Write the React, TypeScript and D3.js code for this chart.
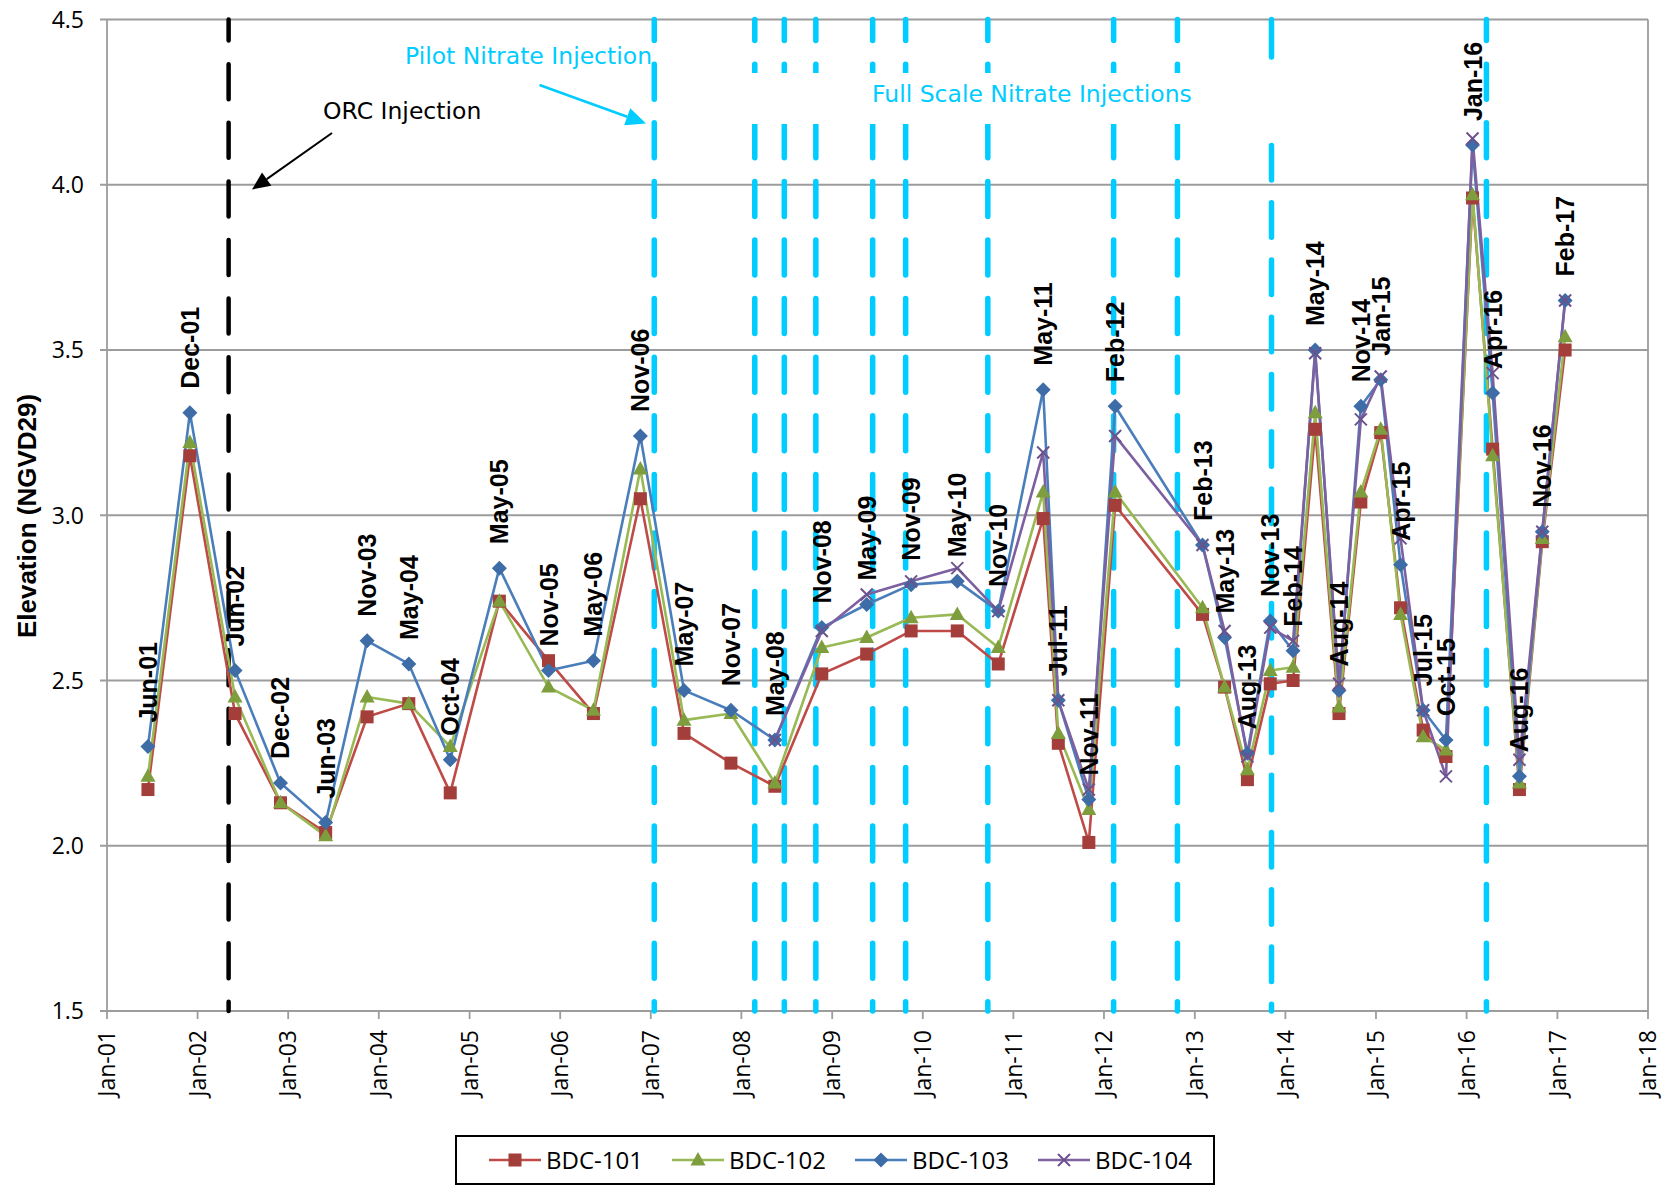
import React from 'react';
import * as d3 from 'd3';

// sampling events (BDC-101..104 water levels, ft NGVD29)
const sampleDates = [
  '2001-06-15', '2001-12-01', '2002-06-01', '2002-12-01', '2003-06-01', '2003-11-15',
  '2004-05-01', '2004-10-15', '2005-05-01', '2005-11-15', '2006-05-15', '2006-11-20',
  '2007-05-15', '2007-11-20', '2008-05-15', '2008-11-20', '2009-05-20', '2009-11-15',
  '2010-05-20', '2010-11-01', '2011-05-01', '2011-07-01', '2011-11-01', '2012-02-15',
  '2013-02-01', '2013-05-01', '2013-08-01', '2013-11-01', '2014-02-01', '2014-05-01',
  '2014-08-05', '2014-11-01', '2015-01-20', '2015-04-10', '2015-07-10', '2015-10-10',
  '2016-01-25', '2016-04-15', '2016-08-01', '2016-11-01', '2017-02-01'
];
const sampleLabels = [
  'Jun-01', 'Dec-01', 'Jun-02', 'Dec-02', 'Jun-03', 'Nov-03', 'May-04', 'Oct-04', 'May-05',
  'Nov-05', 'May-06', 'Nov-06', 'May-07', 'Nov-07', 'May-08', 'Nov-08', 'May-09', 'Nov-09',
  'May-10', 'Nov-10', 'May-11', 'Jul-11', 'Nov-11', 'Feb-12', 'Feb-13', 'May-13', 'Aug-13',
  'Nov-13', 'Feb-14', 'May-14', 'Aug-14', 'Nov-14', 'Jan-15', 'Apr-15', 'Jul-15', 'Oct-15',
  'Jan-16', 'Apr-16', 'Aug-16', 'Nov-16', 'Feb-17'
];
const bdc101 = [2.17, 3.18, 2.40, 2.13, 2.04, 2.39, 2.43, 2.16, 2.74, 2.56, 2.40, 3.05, 2.34, 2.25,
  2.18, 2.52, 2.58, 2.65, 2.65, 2.55, 2.99, 2.31, 2.01, 3.03, 2.70, 2.48, 2.20, 2.49, 2.50, 3.26,
  2.40, 3.04, 3.25, 2.72, 2.35, 2.27, 3.96, 3.20, 2.17, 2.92, 3.50];
const bdc102 = [2.21, 3.22, 2.45, 2.13, 2.03, 2.45, 2.43, 2.30, 2.74, 2.48, 2.41, 3.14, 2.38, 2.40,
  2.19, 2.60, 2.63, 2.69, 2.70, 2.60, 3.07, 2.34, 2.11, 3.07, 2.72, 2.48, 2.23, 2.53, 2.54, 3.31,
  2.42, 3.07, 3.26, 2.70, 2.33, 2.29, 3.97, 3.18, 2.19, 2.93, 3.54];
const bdc103 = [2.30, 3.31, 2.53, 2.19, 2.07, 2.62, 2.55, 2.26, 2.84, 2.53, 2.56, 3.24, 2.47, 2.41,
  2.32, 2.66, 2.73, 2.79, 2.80, 2.71, 3.38, 2.44, 2.14, 3.33, 2.91, 2.63, 2.28, 2.68, 2.59, 3.50,
  2.47, 3.33, 3.41, 2.85, 2.41, 2.32, 4.12, 3.37, 2.21, 2.95, 3.65];
const bdc104 = [null, null, null, null, null, null, null, null, null, null, null, null, null, null,
  2.32, 2.65, 2.76, 2.80, 2.84, 2.71, 3.19, 2.44, 2.17, 3.24, 2.91, 2.65, 2.27, 2.66, 2.62, 3.49,
  2.49, 3.29, 3.42, 2.93, 2.41, 2.21, 4.14, 3.43, 2.26, 2.95, 3.65];

const seriesNames = ['BDC-101', 'BDC-102', 'BDC-103', 'BDC-104'];
const orcInjectionDate = '2002-05-06';
const nitrateInjectionDates = [
  '2007-01-15', '2008-02-24', '2008-06-22', '2008-10-27', '2009-06-13', '2009-10-24',
  '2010-09-20', '2012-02-09', '2012-10-23', '2016-03-21'
];
const lateInjectionDate = '2013-11-06';
const yTickValues = [1.5, 2.0, 2.5, 3.0, 3.5, 4.0, 4.5];

const W = 1669;
const H = 1186;
const plot = {left: 107, right: 1648, top: 19.5, bottom: 1011};
const CYAN = '#00CCFF';
const GRID = '#9C9C9C';
const TICK_FONT = '"Open Sans", sans-serif';
const LABEL_FONT = '"Liberation Sans", Arial, sans-serif';
const NOTE_FONT = '"DejaVu Sans", sans-serif';

const styles = [
  {line: '#BE4B48', fill: '#A33E3A', shape: 'square'},
  {line: '#98B954', fill: '#7E9D3D', shape: 'triangle'},
  {line: '#4A7EBB', fill: '#3D6CA7', shape: 'diamond'},
  {line: '#7D60A0', fill: '#6C528D', shape: 'x'}
];

const parse = d3.timeParse('%Y-%m-%d');

const x = d3.scaleTime()
  .domain([new Date(2001, 0, 1), new Date(2018, 0, 1)])
  .range([plot.left, plot.right]);

const y = d3.scaleLinear()
  .domain([1.5, 4.5])
  .range([plot.bottom, plot.top]);

const dates = sampleDates.map(d => parse(d));
const allSeries = [bdc101, bdc102, bdc103, bdc104];

function Marker({shape, cx, cy, fill}) {
  if (shape === 'square') {
    return <rect x={cx - 6.5} y={cy - 6.5} width={13} height={13} fill={fill}/>;
  }
  if (shape === 'triangle') {
    return <path d={`M${cx},${cy - 8}L${cx + 7.5},${cy + 5.5}L${cx - 7.5},${cy + 5.5}Z`} fill={fill}/>;
  }
  if (shape === 'diamond') {
    return <path d={`M${cx},${cy - 7.5}L${cx + 7.5},${cy}L${cx},${cy + 7.5}L${cx - 7.5},${cy}Z`} fill={fill}/>;
  }
  return (
    <path d={`M${cx - 6},${cy - 6}L${cx + 6},${cy + 6}M${cx - 6},${cy + 6}L${cx + 6},${cy - 6}`}
      stroke={fill} strokeWidth={2} fill="none"/>
  );
}

function Arrow({x1, y1, x2, y2, color, width, head}) {
  const ang = Math.atan2(y2 - y1, x2 - x1);
  const bx = x2 - head * Math.cos(ang);
  const by = y2 - head * Math.sin(ang);
  const hw = head * 0.45;
  const px = -Math.sin(ang) * hw;
  const py = Math.cos(ang) * hw;
  return (
    <g>
      <line x1={x1} y1={y1} x2={bx} y2={by} stroke={color} strokeWidth={width}/>
      <path d={`M${x2},${y2}L${bx + px},${by + py}L${bx - px},${by - py}Z`} fill={color}/>
    </g>
  );
}

export default function App() {
  const line = d3.line()
    .defined(d => d[1] != null)
    .x(d => x(d[0]))
    .y(d => y(d[1]));

  const xTicks = d3.timeYear.range(new Date(2001, 0, 1), new Date(2018, 0, 2));
  const fmt = d3.timeFormat('%b-%y');

  const dashed = (date, color, w, key) => {
    const px = x(parse(date));
    return (
      <line key={key} x1={px} x2={px} y1={plot.top} y2={plot.bottom}
        stroke={color} strokeWidth={w} strokeLinecap="round"
        strokeDasharray="35 23.6" strokeDashoffset={13.9}/>
    );
  };
  const lateX = x(parse(lateInjectionDate));

  return (
    <div style={{position: 'absolute', left: 0, top: 0, background: '#fff'}}>
      <svg width={W} height={H} viewBox={`0 0 ${W} ${H}`} style={{display: 'block'}}>
        <rect width={W} height={H} fill="#fff"/>

        {/* gridlines + frame */}
        {yTickValues.map(v => (
          <line key={v} x1={plot.left - 7} x2={plot.right} y1={y(v)} y2={y(v)}
            stroke={GRID} strokeWidth={1.8}/>
        ))}
        <line x1={plot.left} x2={plot.left} y1={plot.top} y2={plot.bottom} stroke={GRID} strokeWidth={1.8}/>
        <line x1={plot.right} x2={plot.right} y1={plot.top} y2={plot.bottom} stroke={GRID} strokeWidth={1.8}/>
        {xTicks.map(t => (
          <line key={+t} x1={x(t)} x2={x(t)} y1={plot.bottom} y2={plot.bottom + 8}
            stroke={GRID} strokeWidth={1.8}/>
        ))}

        {/* injection markers */}
        {dashed(orcInjectionDate, '#000', 4.5, 'orc')}
        {nitrateInjectionDates.map((d, i) => dashed(d, CYAN, 5.5, 'n' + i))}
        <line x1={lateX} x2={lateX} y1={plot.top} y2={57} stroke={CYAN} strokeWidth={5.5} strokeLinecap="round"/>
        <line x1={lateX} x2={lateX} y1={124} y2={plot.bottom} stroke={CYAN} strokeWidth={5.5}
          strokeLinecap="round" strokeDasharray="34.5 22.75" strokeDashoffset={-21.5}/>
        <rect x={740} y={73} width={520} height={51} fill="#fff"/>

        {/* series */}
        {allSeries.map((vals, si) => (
          <path key={'l' + si} d={line(dates.map((d, i) => [d, vals[i]]))}
            fill="none" stroke={styles[si].line} strokeWidth={2.6} strokeLinejoin="round"/>
        ))}
        {allSeries.map((vals, si) => (
          <g key={'m' + si}>
            {vals.map((v, i) => v == null ? null : (
              <Marker key={i} shape={styles[si].shape} cx={x(dates[i])} cy={y(v)} fill={styles[si].fill}/>
            ))}
          </g>
        ))}

        {/* data labels on BDC-103 */}
        {sampleLabels.map((lab, i) => {
          const px = x(dates[i]) + 9;
          const py = y(bdc103[i]) - 24;
          return (
            <text key={lab} transform={`translate(${px},${py}) rotate(-90)`}
              fontFamily={LABEL_FONT} fontWeight="bold" fontSize={25} fill="#000">{lab}</text>
          );
        })}

        {/* annotations */}
        <text x={405} y={64} fontFamily={NOTE_FONT} fontSize={23.5} fill={CYAN}>Pilot Nitrate Injection</text>
        <Arrow x1={539.5} y1={85} x2={646} y2={123.5} color={CYAN} width={2.5} head={20}/>
        <text x={323} y={119} fontFamily={NOTE_FONT} fontSize={23.5} fill="#000">ORC Injection</text>
        <Arrow x1={332} y1={133} x2={252} y2={189.5} color="#000" width={2} head={18}/>
        <text x={872} y={102} fontFamily={NOTE_FONT} fontSize={23.5} fill={CYAN}>Full Scale Nitrate Injections</text>

        {/* y axis labels */}
        {yTickValues.map(v => (
          <text key={'yt' + v} x={84} y={y(v)} dy="0.36em" textAnchor="end"
            fontFamily={TICK_FONT} fontSize={23} fill="#000">{d3.format('.1f')(v)}</text>
        ))}
        <text transform={`translate(36,516) rotate(-90)`} textAnchor="middle"
          fontFamily={LABEL_FONT} fontWeight="bold" fontSize={26} fill="#000">Elevation (NGVD29)</text>

        {/* x axis labels */}
        {xTicks.map(t => (
          <text key={'xt' + +t} transform={`translate(${x(t) + 8.2},${plot.bottom + 19}) rotate(-90)`}
            textAnchor="end" fontFamily={TICK_FONT} fontSize={23} fill="#000">{fmt(t)}</text>
        ))}

        {/* legend */}
        <rect x={456} y={1136} width={758} height={48} fill="#fff" stroke="#000" strokeWidth={2}/>
        {seriesNames.map((name, i) => {
          const lx = [489, 672, 855, 1038][i];
          return (
            <g key={name}>
              <line x1={lx} x2={lx + 52} y1={1160} y2={1160} stroke={styles[i].line} strokeWidth={2.6}/>
              <Marker shape={styles[i].shape} cx={lx + 26} cy={1160} fill={styles[i].fill}/>
              <text x={lx + 57} y={1160} dy="0.36em" fontFamily={TICK_FONT} fontSize={24} fill="#000">{name}</text>
            </g>
          );
        })}
      </svg>
    </div>
  );
}
